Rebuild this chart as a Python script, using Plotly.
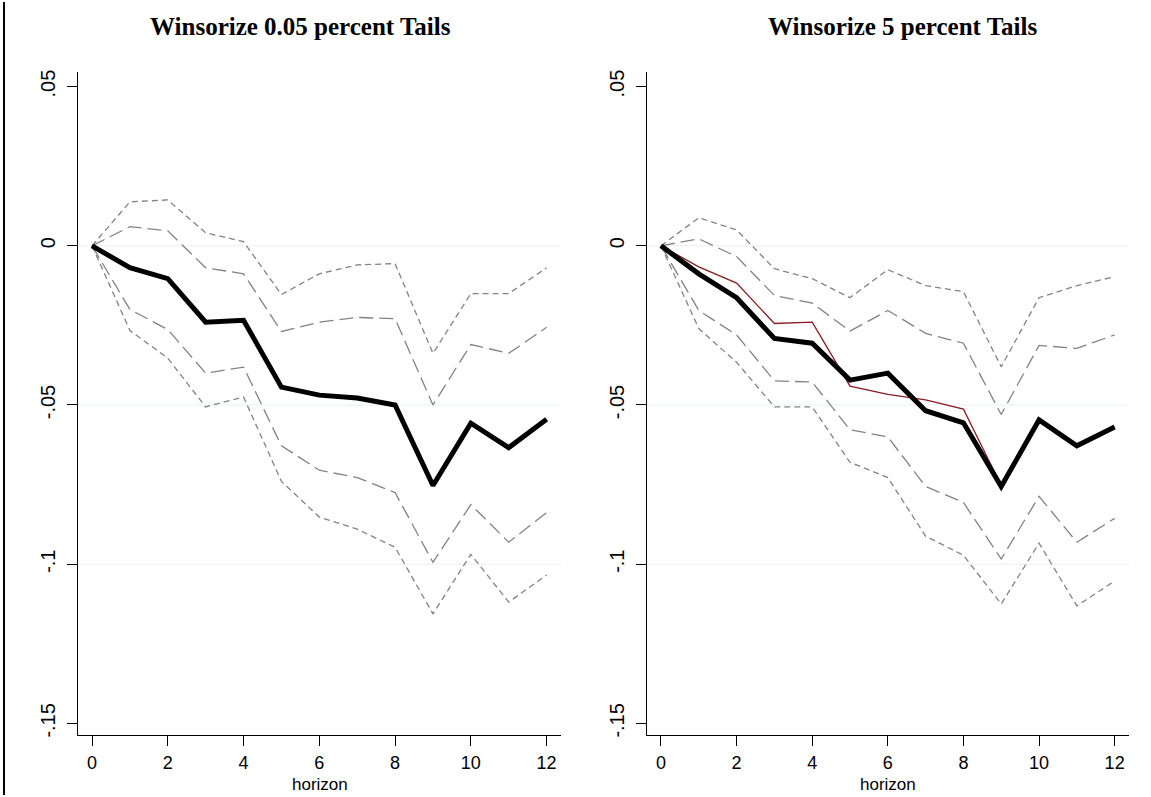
import plotly.graph_objects as go

# Impulse responses by horizon, two winsorization settings
horizon = list(range(13))

# Winsorize 0.05 percent tails
coef_a = [0, -0.0069, -0.0103, -0.0240, -0.0234, -0.0444, -0.0469, -0.0478, -0.0500, -0.0753, -0.0557, -0.0634, -0.0545]
base_a = [0, -0.0068, -0.0104, -0.0243, -0.0235, -0.0444, -0.0470, -0.0480, -0.0505, -0.0750, -0.0556, -0.0632, -0.0548]
hi90_a = [0, 0.0138, 0.0144, 0.0041, 0.0013, -0.0153, -0.0088, -0.0060, -0.0056, -0.0338, -0.0150, -0.0150, -0.0069]
hi68_a = [0, 0.0060, 0.0047, -0.0069, -0.0088, -0.0269, -0.0240, -0.0225, -0.0229, -0.0500, -0.0310, -0.0338, -0.0256]
lo68_a = [0, -0.0200, -0.0263, -0.0400, -0.0381, -0.0628, -0.0705, -0.0728, -0.0775, -0.0994, -0.0813, -0.0931, -0.0838]
lo90_a = [0, -0.0266, -0.0353, -0.0506, -0.0475, -0.0740, -0.0852, -0.0890, -0.0947, -0.1156, -0.0969, -0.1119, -0.1034]

# Winsorize 5 percent tails
coef_b = [0, -0.0088, -0.0163, -0.0291, -0.0306, -0.0422, -0.0400, -0.0518, -0.0556, -0.0756, -0.0547, -0.0628, -0.0569]
base_b = [0, -0.0066, -0.0117, -0.0244, -0.0240, -0.0441, -0.0467, -0.0484, -0.0513, -0.0753, -0.0547, -0.0628, -0.0569]
hi90_b = [0, 0.0088, 0.0050, -0.0072, -0.0103, -0.0163, -0.0075, -0.0125, -0.0144, -0.0380, -0.0163, -0.0125, -0.0097]
hi68_b = [0, 0.0022, -0.0034, -0.0156, -0.0180, -0.0268, -0.0203, -0.0275, -0.0306, -0.0530, -0.0313, -0.0322, -0.0280]
lo68_b = [0, -0.0203, -0.0280, -0.0424, -0.0428, -0.0578, -0.0600, -0.0756, -0.0806, -0.0984, -0.0787, -0.0931, -0.0856]
lo90_b = [0, -0.0260, -0.0366, -0.0506, -0.0506, -0.0680, -0.0728, -0.0912, -0.0972, -0.1125, -0.0934, -0.1131, -0.1053]

titles = ["Winsorize 0.05 percent Tails", "Winsorize 5 percent Tails"]
x_title = "horizon"
y_ticks = [0.05, 0, -0.05, -0.1, -0.15]
y_tick_text = [".05", "0", "-.05", "-.1", "-.15"]
x_ticks = [0, 2, 4, 6, 8, 10, 12]
grid_levels = [0, -0.05, -0.1]

W, H = 1151, 797
GRAY = "#838383"
fig = go.Figure()

panels = [
    (coef_a, base_a, hi90_a, hi68_a, lo68_a, lo90_a),
    (coef_b, base_b, hi90_b, hi68_b, lo68_b, lo90_b),
]
x_domains = [[78 / W, 561 / W], [647 / W, 1129 / W]]
title_x = [300 / W, 902 / W]
y_domain = [1 - 737 / H, 1 - 70 / H]

for i, (coef, base, hi90, hi68, lo68, lo90) in enumerate(panels):
    xa = "x" if i == 0 else "x2"
    ya = "y" if i == 0 else "y2"
    for band, dash in ((hi90, "6px,4px"), (lo90, "6px,4px"), (hi68, "14px,6px"), (lo68, "14px,6px")):
        fig.add_trace(go.Scatter(x=horizon, y=band, mode="lines", xaxis=xa, yaxis=ya,
                                 line=dict(color=GRAY, width=1.3, dash=dash), showlegend=False))
    fig.add_trace(go.Scatter(x=horizon, y=base, mode="lines", xaxis=xa, yaxis=ya,
                             line=dict(color="#8b1c24", width=1.3), showlegend=False))
    fig.add_trace(go.Scatter(x=horizon, y=coef, mode="lines", xaxis=xa, yaxis=ya,
                             line=dict(color="black", width=5), showlegend=False))

sans = "Liberation Sans, Arial, sans-serif"
axis_font = dict(family=sans, size=18, color="black")
common_x = dict(range=[-0.37, 12.38], tickvals=x_ticks, ticks="outside", ticklen=10, tickwidth=1.3,
                tickcolor="black", showline=True, linecolor="black", linewidth=1.3, showgrid=False,
                zeroline=False, tickfont=axis_font, ticklabelstandoff=1)
common_y = dict(range=[-0.15375, 0.0547], tickvals=y_ticks, ticktext=y_tick_text, tickangle=-90,
                ticks="outside", ticklen=10, tickwidth=1.3, tickcolor="black", showline=True,
                linecolor="black", linewidth=1.3, showgrid=False, zeroline=False, ticklabelstandoff=4,
                tickfont=dict(family=sans, size=20, color="black"))

fig.update_layout(
    width=W, height=H, margin=dict(l=0, r=0, t=0, b=0),
    paper_bgcolor="white", plot_bgcolor="white",
    xaxis=dict(domain=x_domains[0], anchor="y", **common_x),
    yaxis=dict(domain=y_domain, anchor="x", **common_y),
    xaxis2=dict(domain=x_domains[1], anchor="y2", **common_x),
    yaxis2=dict(domain=y_domain, anchor="x2", **common_y),
)

# horizontal reference grid
for i in range(2):
    xr = "x domain" if i == 0 else "x2 domain"
    yr = "y" if i == 0 else "y2"
    for g in grid_levels:
        fig.add_shape(type="line", xref=xr, yref=yr, x0=0, x1=1, y0=g, y1=g,
                      line=dict(color="#e8f0f1", width=1), layer="below")

# panel titles and x-axis titles
for i, t in enumerate(titles):
    fig.add_annotation(text="<b>%s</b>" % t, xref="paper", yref="paper", x=title_x[i], y=1 - 25 / H,
                       showarrow=False, xanchor="center", yanchor="middle",
                       font=dict(family="Liberation Serif, Times New Roman, serif", size=25, color="black"))
    fig.add_annotation(text=x_title, xref="paper", yref="paper",
                       x=(x_domains[i][0] + x_domains[i][1]) / 2, y=0,
                       showarrow=False, xanchor="center", yanchor="bottom", borderpad=0,
                       font=dict(family=sans, size=17, color="black"))

# outer frame edge on the left
fig.add_shape(type="line", xref="paper", yref="paper", x0=4 / W, x1=4 / W, y0=0, y1=1,
              line=dict(color="black", width=2))

fig.write_html("out.html")
